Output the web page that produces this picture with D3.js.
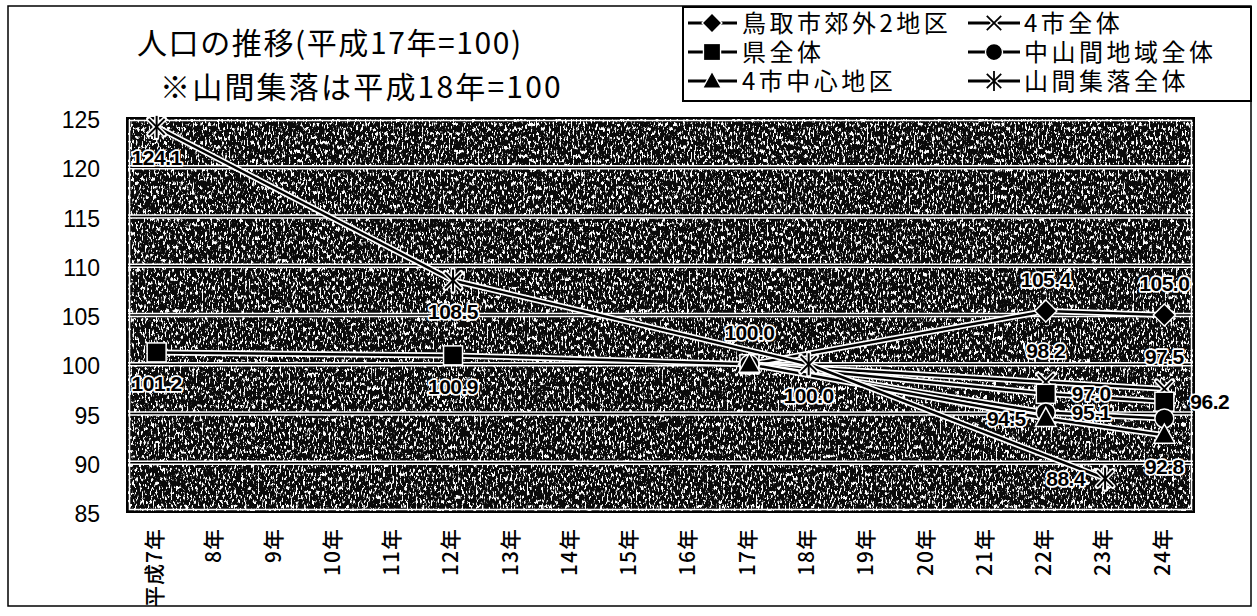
<!DOCTYPE html>
<html>
<head>
<meta charset="utf-8">
<script src="https://cdn.jsdelivr.net/npm/d3@7"></script>
<style>
  body { margin: 0; background: #fff; }
  svg { display: block; }
</style>
</head>
<body>
<svg id="chart" width="1257" height="616"></svg>
<script>
// Population index by year (平成17年 = 100; 山間集落 uses 平成18年 = 100)
const years = ["平成7年","8年","9年","10年","11年","12年","13年","14年","15年","16年",
               "17年","18年","19年","20年","21年","22年","23年","24年"];
const yTicks = [85, 90, 95, 100, 105, 110, 115, 120, 125];

const tottoriSuburbs   = [null,null,null,null,null,null,null,null,null,null,100.0,null,null,null,null,105.4,null,105.0];
const fourCitiesAll    = [null,null,null,null,null,null,null,null,null,null,100.0,null,null,null,null, 98.2,null, 97.5];
const prefectureAll    = [101.2,null,null,null,null,100.9,null,null,null,null,100.0,null,null,null,null, 97.0,null, 96.2];
const hillyAreasAll    = [null,null,null,null,null,null,null,null,null,null,100.0,null,null,null,null, 95.1,null, 94.5];
const fourCityCenters  = [null,null,null,null,null,null,null,null,null,null,100.0,null,null,null,null, 94.5,null, 92.8];
const mountainVillages = [124.1,null,null,null,null,108.5,null,null,null,null,null,100.0,null,null,null,null,88.4,null];

// series in legend order, with marker type and where each value label sits
const series = [
  { name: "鳥取市郊外2地区", values: tottoriSuburbs,   marker: "diamond",  place: { 10: "a", 15: "a", 17: "a" } },
  { name: "4市全体",         values: fourCitiesAll,    marker: "x",        place: { 15: "a", 17: "a" } },
  { name: "県全体",          values: prefectureAll,    marker: "square",   place: { 0: "b", 5: "b", 15: "r", 17: "r" } },
  { name: "中山間地域全体",  values: hillyAreasAll,    marker: "circle",   place: { 15: "r" } },
  { name: "4市中心地区",     values: fourCityCenters,  marker: "triangle", place: { 15: "l", 17: "b" } },
  { name: "山間集落全体",    values: mountainVillages, marker: "asterisk", place: { 0: "b", 5: "b", 11: "b", 16: "l" } }
];

const svg = d3.select("#chart");
const plot = { left: 127, right: 1194, top: 118, bottom: 512 };

const x = d3.scaleBand().domain(years).range([plot.left, plot.right]).padding(0);
const cx = d => x(d) + x.bandwidth() / 2;
const y = d3.scaleLinear().domain([85, 125]).range([plot.bottom, plot.top]);

const JP = "'Noto Sans CJK JP', 'Noto Sans', sans-serif";
const NUM = "'Liberation Sans', Arial, sans-serif";

// speckled halftone texture of the plot area
const defs = svg.append("defs");
const f = defs.append("filter").attr("id", "speckle")
  .attr("x", 0).attr("y", 0).attr("width", 1).attr("height", 1);
f.append("feTurbulence").attr("type", "fractalNoise")
  .attr("baseFrequency", "0.55 0.22").attr("numOctaves", 3).attr("seed", 11).attr("result", "n");
f.append("feColorMatrix").attr("in", "n").attr("type", "matrix")
  .attr("values", "0 0 0 0 1  0 0 0 0 1  0 0 0 0 1  9 0 0 0 -4.9");

// outer frame
svg.append("rect").attr("x", 8).attr("y", 6).attr("width", 1243).attr("height", 600)
  .attr("fill", "none").attr("stroke", "#000").attr("stroke-width", 1.5);

// title
svg.append("text").attr("x", 137).attr("y", 54)
  .style("font-family", JP).style("font-size", "30px").style("letter-spacing", "1.6px")
  .attr("fill", "#000")
  .text("人口の推移(平成17年=100)");
svg.append("text").attr("x", 160).attr("y", 98)
  .style("font-family", JP).style("font-size", "30px").style("letter-spacing", "2.2px")
  .attr("fill", "#000")
  .text("※山間集落は平成18年=100");

// plot background
svg.append("rect").attr("x", plot.left).attr("y", plot.top)
  .attr("width", plot.right - plot.left).attr("height", plot.bottom - plot.top).attr("fill", "#0a0a0a");
svg.append("rect").attr("x", plot.left).attr("y", plot.top)
  .attr("width", plot.right - plot.left).attr("height", plot.bottom - plot.top)
  .attr("fill", "#fff").attr("filter", "url(#speckle)");

// gridlines: white double rule
const grid = svg.append("g");
yTicks.filter(t => t > 85 && t < 125).forEach(t => {
  grid.append("line").attr("x1", plot.left).attr("x2", plot.right).attr("y1", y(t)).attr("y2", y(t))
    .attr("stroke", "#fff").attr("stroke-width", 4.5);
  grid.append("line").attr("x1", plot.left).attr("x2", plot.right).attr("y1", y(t)).attr("y2", y(t))
    .attr("stroke", "#000").attr("stroke-width", 1.5);
});

// plot border
svg.append("rect").attr("x", plot.left + 2.5).attr("y", plot.top + 2.5)
  .attr("width", plot.right - plot.left - 5).attr("height", plot.bottom - plot.top - 5)
  .attr("fill", "none").attr("stroke", "#fff").attr("stroke-width", 1.5);
svg.append("rect").attr("x", plot.left).attr("y", plot.top)
  .attr("width", plot.right - plot.left).attr("height", plot.bottom - plot.top)
  .attr("fill", "none").attr("stroke", "#000").attr("stroke-width", 2);

// category boundary ticks on the bottom edge
years.forEach((d, i) => {
  if (i === 0) return;
  svg.append("line").attr("x1", x(d)).attr("x2", x(d)).attr("y1", plot.bottom - 2).attr("y2", plot.bottom - 7)
    .attr("stroke", "#fff").attr("stroke-width", 1.5);
});

// y axis
const yAxis = svg.append("g").attr("transform", `translate(${plot.left},0)`)
  .call(d3.axisLeft(y).tickValues(yTicks).tickSize(0).tickPadding(27));
yAxis.select(".domain").remove();
yAxis.selectAll("text").style("font-family", NUM).style("font-size", "23px")
  .attr("fill", "#000").attr("dy", "0.42em");

// x axis: labels rotated to read bottom-to-top
const xAxis = svg.append("g").attr("transform", `translate(0,${plot.bottom})`)
  .call(d3.axisBottom(x).tickSize(0));
xAxis.select(".domain").remove();
xAxis.selectAll("text")
  .style("font-family", JP).style("font-size", "21px").style("font-weight", 500)
  .style("letter-spacing", "1px").attr("fill", "#000")
  .attr("text-anchor", "end").attr("dy", "0.35em").attr("y", 0)
  .attr("transform", "translate(-2,16) rotate(-90)");

// marker drawing
function drawMarker(g, type, px, py, s = 1) {
  const m = g.append("g").attr("transform", `translate(${px},${py}) scale(${s})`);
  if (type === "square") {
    m.append("rect").attr("x", -9.5).attr("y", -9.5).attr("width", 19).attr("height", 19)
      .attr("fill", "#000").attr("stroke", "#fff").attr("stroke-width", 1.5);
  } else if (type === "diamond") {
    m.append("path").attr("d", "M0,-11L11,0L0,11L-11,0Z")
      .attr("fill", "#000").attr("stroke", "#fff").attr("stroke-width", 1.5);
  } else if (type === "circle") {
    m.append("circle").attr("r", 9.5).attr("fill", "#000").attr("stroke", "#fff").attr("stroke-width", 1.5);
  } else if (type === "triangle") {
    m.append("path").attr("d", "M0,-11L10.5,8L-10.5,8Z")
      .attr("fill", "#000").attr("stroke", "#fff").attr("stroke-width", 1.5);
  } else {
    const segs = [[-8, -8, 8, 8], [-8, 8, 8, -8]];
    if (type === "asterisk") segs.push([0, -11, 0, 11]);
    segs.forEach(s2 => m.append("line").attr("x1", s2[0]).attr("y1", s2[1]).attr("x2", s2[2]).attr("y2", s2[3])
      .attr("stroke", "#fff").attr("stroke-width", 5).attr("stroke-linecap", "round"));
    segs.forEach(s2 => m.append("line").attr("x1", s2[0]).attr("y1", s2[1]).attr("x2", s2[2]).attr("y2", s2[3])
      .attr("stroke", "#000").attr("stroke-width", 2));
  }
}

const line = d3.line().x(d => cx(d.year)).y(d => y(d.v));
const pts = s => s.values.map((v, i) => ({ year: years[i], v, i })).filter(d => d.v !== null);

// series lines: black with a white edge
const lines = svg.append("g");
series.forEach(s => {
  lines.append("path").datum(pts(s)).attr("d", line).attr("fill", "none")
    .attr("stroke", "#fff").attr("stroke-width", 6).attr("stroke-linejoin", "round");
  lines.append("path").datum(pts(s)).attr("d", line).attr("fill", "none")
    .attr("stroke", "#000").attr("stroke-width", 2.5).attr("stroke-linejoin", "round");
});

// markers
const marks = svg.append("g");
series.forEach(s => pts(s).forEach(d => drawMarker(marks, s.marker, cx(d.year), y(d.v))));

// value labels
const labels = svg.append("g");
series.forEach(s => pts(s).forEach(d => {
  const p = s.place[d.i];
  if (!p) return;
  let lx = cx(d.year), ly = y(d.v), anchor = "middle";
  if (p === "a") ly -= 32;
  if (p === "b") ly += 31;
  if (p === "l") { lx -= 20; anchor = "end"; }
  if (p === "r") { lx += 26; anchor = "start"; }
  labels.append("text").attr("x", lx).attr("y", ly).attr("dy", "0.36em")
    .attr("text-anchor", anchor)
    .style("font-family", NUM).style("font-size", "21px").style("font-weight", "bold")
    .style("letter-spacing", "-0.5px")
    .attr("fill", "#000").attr("stroke", "#fff").attr("stroke-width", 3.5)
    .attr("paint-order", "stroke").attr("stroke-linejoin", "round")
    .text(d.v.toFixed(1));
}));

// legend
const lg = svg.append("g");
lg.append("rect").attr("x", 683).attr("y", 7).attr("width", 568).attr("height", 94)
  .attr("fill", "#fff").attr("stroke", "#000").attr("stroke-width", 2);
const cols = [{ x1: 688, x2: 737, mx: 712, tx: 742 }, { x1: 968, x2: 1020, mx: 994, tx: 1024 }];
const rows = [23, 52, 81];
series.forEach((s, k) => {
  const c = cols[k % 2], r = rows[Math.floor(k / 2)];
  lg.append("line").attr("x1", c.x1).attr("x2", c.x2).attr("y1", r).attr("y2", r)
    .attr("stroke", "#000").attr("stroke-width", 3);
  drawMarker(lg, s.marker, c.mx, r, 0.9);
  lg.append("text").attr("x", c.tx).attr("y", r).attr("dy", "0.36em")
    .style("font-family", JP).style("font-size", "24px").style("letter-spacing", "3.5px")
    .attr("fill", "#000")
    .text(s.name);
});
</script>
</body>
</html>
